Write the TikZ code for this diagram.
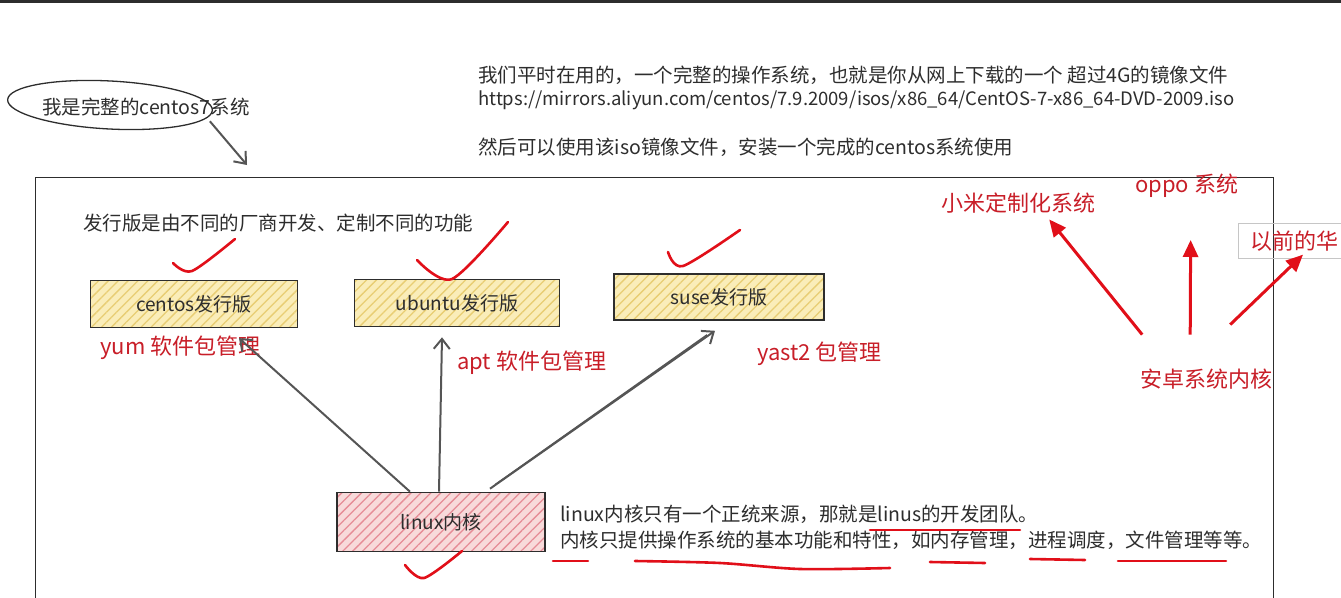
\documentclass[tikz,border=0pt]{standalone}
\usepackage{fontspec}
\setmainfont{Noto Sans CJK SC}
\usetikzlibrary{shapes.geometric, arrows.meta, positioning, patterns.meta}

\definecolor{inkgray}{RGB}{45,45,45}
\definecolor{arrgray}{RGB}{85,85,85}
\definecolor{labelred}{RGB}{200,30,40}
\definecolor{penred}{RGB}{225,15,25}
\definecolor{distfill}{RGB}{250,237,185}
\definecolor{disthatch}{RGB}{232,205,115}
\definecolor{kernfill}{RGB}{248,218,218}
\definecolor{kernhatch}{RGB}{230,140,150}

\begin{document}
\begin{tikzpicture}[
			x=1pt, y=-1pt,
			note/.style={anchor=west, inner sep=0pt, text=inkgray, font=\fontsize{19.5}{23}\selectfont},
			redlabel/.style={anchor=west, inner sep=0pt, text=labelred, font=\fontsize{22}{26}\selectfont},
			distro/.style={rectangle, draw=inkgray, line width=1.6pt, minimum width=207pt, minimum height=47pt, preaction={fill=distfill}, pattern={Lines[angle=45, distance=7pt, line width=1.3pt]}, pattern color=disthatch, text=inkgray, font=\fontsize{19}{23}\selectfont},
			kernel/.style={rectangle, draw=inkgray, line width=1.6pt, minimum width=208pt, minimum height=59pt, preaction={fill=kernfill}, pattern={Lines[angle=45, distance=7pt, line width=1.3pt]}, pattern color=kernhatch, text=inkgray, font=\fontsize{19}{23}\selectfont},
			garr/.style={-{Straight Barb[length=10pt, width=16pt]}, arrgray, line width=2pt},
			rarr/.style={-{Triangle[length=17pt, width=15pt]}, penred, line width=3pt},
			pen/.style={penred, line width=2.6pt, line cap=round, line join=round}
			]
			\useasboundingbox (0,0) rectangle (1341,597);
			\fill[inkgray] (0,0) rectangle (1341,2.5);
			% outer frame and the oval note
			\node[draw=inkgray, line width=1.4pt, minimum width=1238pt, minimum height=440pt, anchor=north west, inner sep=0pt] (frame) at (35,177) {};
			\node[ellipse, draw=inkgray, line width=1.3pt, minimum width=205pt, minimum height=48pt, rotate=-3] (oval) at (110,105) {};
			\node[note] (whole) at (42,107) {我是完整的centos7系统};
			\draw[garr] ([xshift=-40pt, yshift=-5pt]whole.south east) -- ([xshift=212pt, yshift=12pt]frame.north west);
			% text at the top
			\node[note] (iso) at (478,75) {我们平时在用的，一个完整的操作系统，也就是你从网上下载的一个 超过4G的镜像文件};
			\node[note, font=\fontsize{18.5}{22}\selectfont] (url) at (478,100) {https://mirrors.aliyun.com/centos/7.9.2009/isos/x86\_64/CentOS-7-x86\_64-DVD-2009.iso};
			\node[note] (install) at (478,147) {然后可以使用该iso镜像文件，安装一个完成的centos系统使用};
			\node[note] (vendor) at (83,223) {发行版是由不同的厂商开发、定制不同的功能};
			% distributions
			\node[distro] (centos) at (194,304) {centos发行版};
			\node[distro, minimum width=205pt] (ubuntu) at (457,303) {ubuntu发行版};
			\node[distro, minimum width=210pt, minimum height=46pt] (suse) at (719,297) {suse发行版};
			\node[redlabel] (yum) at (100,348) {yum 软件包管理};
			\node[redlabel] (apt) at (457,363) {apt 软件包管理};
			\node[redlabel] (yast) at (757,354) {yast2 包管理};
			% kernel
			\node[kernel] (linux) at (441,522) {linux内核};
			\node[note] (source) at (560,514) {linux内核只有一个正统来源，那就是linus的开发团队。};
			\node[note] (feature) at (560,540) {内核只提供操作系统的基本功能和特性，如内存管理，进程调度，文件管理等等。};
			\draw[garr] ([xshift=-31pt]linux.north) -- ([xshift=45pt, yshift=-10pt]centos.south);
			\draw[garr] ([xshift=-2pt]linux.north) -- ([xshift=-15pt, yshift=-10pt]ubuntu.south);
			\draw[garr] ([xshift=49pt, yshift=3pt]linux.north) -- ([xshift=-4pt, yshift=-10pt]suse.south);
			\draw[arrgray, line width=1.4pt] ([xshift=54pt, yshift=7pt]linux.north) -- ([xshift=-12pt, yshift=-14pt]suse.south);
			% android
			\node[redlabel] (xiaomi) at (941,203) {小米定制化系统};
			\node[redlabel] (oppo) at (1135,186) {oppo 系统};
			\node[redlabel, draw=gray!45, line width=0.8pt, inner xsep=12pt, inner ysep=7pt] (huawei) at (1238,241) {以前的华};
			\node[redlabel] (android) at (1140,379) {安卓系统内核};
			\draw[rarr] ([xshift=-64pt, yshift=34pt]android.north) -- ([xshift=31pt, yshift=-6pt]xiaomi.south);
			\draw[rarr] ([xshift=-16pt, yshift=34pt]android.north) -- ([xshift=4pt, yshift=-42pt]oppo.south);
			\draw[rarr] ([xshift=24pt, yshift=44pt]android.north) -- ([xshift=65pt, yshift=4pt]huawei.south west);
			% red ticks and underlines
			\draw[pen] plot[smooth] coordinates {(173,263) (192,271) (235,239)};
			\draw[pen] plot[smooth] coordinates {(417,260) (452,279) (508,222)};
			\draw[pen] plot[smooth] coordinates {(668,252) (683,266) (740,230)};
			\draw[pen] plot[smooth] coordinates {(405,565) (424,578) (462,551)};
			\draw[pen] (870,530) -- (1020,530);
			\draw[pen] (553,561) -- (588,561);
			\draw[pen] plot[smooth] coordinates {(635,561) (720,563) (800,569) (890,568)};
			\draw[pen] (930,562) -- (985,563);
			\draw[pen] (1030,559) -- (1085,560);
			\draw[pen] (1118,561) -- (1226,561);
		\end{tikzpicture}
\end{document}
